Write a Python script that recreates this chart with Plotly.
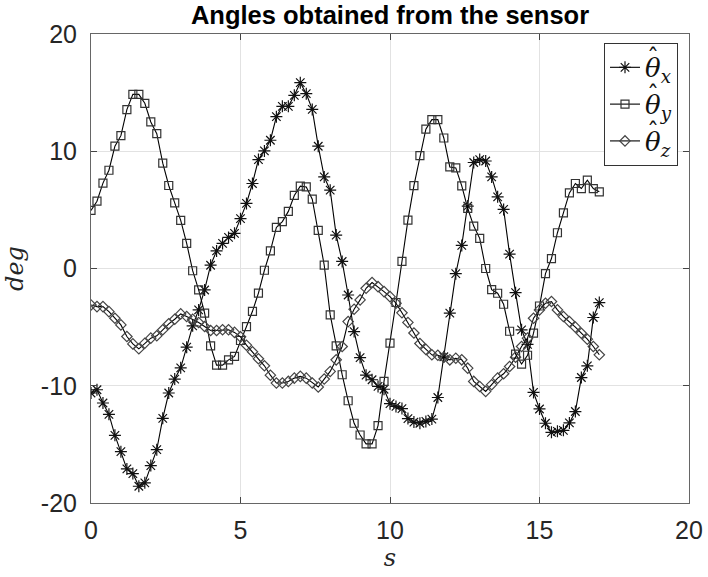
import plotly.graph_objects as go

time_s = [0.0, 0.2, 0.4, 0.6, 0.8, 1.0, 1.2, 1.4, 1.6, 1.8,
          2.0, 2.2, 2.4, 2.6, 2.8, 3.0, 3.2, 3.4, 3.6, 3.8,
          4.0, 4.2, 4.4, 4.6, 4.8, 5.0, 5.2, 5.4, 5.6, 5.8,
          6.0, 6.2, 6.4, 6.6, 6.8, 7.0, 7.2, 7.4, 7.6, 7.8,
          8.0, 8.2, 8.4, 8.6, 8.8, 9.0, 9.2, 9.4, 9.6, 9.8,
          10.0, 10.2, 10.4, 10.6, 10.8, 11.0, 11.2, 11.4, 11.6, 11.8,
          12.0, 12.2, 12.4, 12.6, 12.8, 13.0, 13.2, 13.4, 13.6, 13.8,
          14.0, 14.2, 14.4, 14.6, 14.8, 15.0, 15.2, 15.4, 15.6, 15.8,
          16.0, 16.2, 16.4, 16.6, 16.8, 17.0]

theta_x = [-10.62, -10.34, -11.47, -12.44, -14.23, -15.62, -17.09, -17.49, -18.57, -18.28,
           -16.81, -15.45, -12.78, -10.62, -9.43, -8.47, -6.71, -4.89, -3.53, -1.83,
           0.28, 1.5, 2.14, 2.65, 3.0, 4.25, 5.55, 7.25, 9.29, 10.03,
           10.94, 12.95, 13.83, 13.83, 14.77, 15.85, 14.91, 13.57, 10.43, 7.81,
           6.68, 2.85, 0.6, -2.26, -5.38, -7.6, -9.1, -9.49, -10.06, -10.3,
           -11.53, -11.76, -11.95, -12.8, -13.1, -13.2, -13.04, -12.84, -11.0, -7.53,
           -3.8, -0.44, 1.97, 5.32, 9.04, 9.29, 9.17, 7.81, 6.11, 5.04,
           1.23, -2.06, -5.23, -6.47, -10.57, -11.98, -13.2, -13.97, -13.89, -13.8,
           -13.17, -12.2, -9.3, -8.3, -4.18, -2.91]

theta_y = [4.95, 5.74, 7.28, 8.38, 10.43, 11.33, 13.55, 14.85, 14.85, 14.09,
           12.5, 11.5, 8.98, 7.08, 5.6, 4.1, 2.14, -0.19, -1.83, -3.81,
           -6.6, -8.24, -8.24, -7.79, -7.5, -6.14, -4.95, -3.65, -2.1, -0.15,
           1.5, 3.5, 4.0, 4.87, 6.23, 7.02, 6.96, 5.91, 3.25, 0.28,
           -3.96, -6.6, -9.06, -11.28, -13.2, -14.2, -14.96, -14.96, -13.4, -9.63,
           -6.37, -2.9, 0.6, 4.13, 7.06, 9.63, 11.88, 12.7, 12.7, 11.13,
           8.66, 8.58, 7.05, 5.12, 3.62, 2.57, 0.0, -1.8, -2.11, -3.05,
           -5.35, -7.3, -8.15, -7.4, -5.52, -3.2, -0.44, 0.85, 3.05, 4.75,
           6.45, 7.25, 6.82, 7.53, 6.82, 6.54]

theta_z = [-3.11, -3.25, -3.25, -3.68, -4.24, -4.81, -5.8, -6.43, -6.85, -6.37,
           -5.94, -5.74, -5.23, -4.72, -4.33, -3.87, -4.1, -4.33, -4.61, -4.95,
           -5.29, -5.29, -5.23, -5.23, -5.45, -5.83, -6.54, -7.1, -7.7, -8.3,
           -9.1, -9.77, -9.77, -9.63, -9.35, -9.2, -9.35, -9.77, -10.11, -9.43,
           -8.78, -7.79, -6.65, -4.53, -3.47, -2.68, -1.69, -1.2, -1.55, -1.97,
           -2.4, -2.96, -3.78, -4.6, -5.5, -6.4, -6.9, -7.36, -7.4, -7.56,
           -7.79, -7.65, -7.79, -8.5, -9.63, -10.06, -10.48, -9.91, -9.35, -8.98,
           -8.36, -7.56, -6.65, -5.94, -4.24, -3.53, -2.96, -2.82, -3.53, -4.1,
           -4.53, -5.0, -5.52, -6.03, -6.65, -7.36]

x_ticks = [0, 5, 10, 15, 20]
y_ticks = [-20, -10, 0, 10, 20]
title_text = "Angles obtained from the sensor"
x_label = "s"
y_label = "deg"
legend_names = ["θ<sub>x</sub>", "θ<sub>y</sub>", "θ<sub>z</sub>"]
hat_char = "ˆ"
hat_y = [0.9488, 0.870, 0.791]

series = [(theta_x, "asterisk-open", 10, "#111111"),
          (theta_y, "square-open", 8, "#333333"),
          (theta_z, "diamond-open", 8, "#444444")]

fig = go.Figure()
for (vals, sym, sz, mc), name in zip(series, legend_names):
    fig.add_trace(go.Scatter(
        x=time_s, y=vals, mode="lines+markers", name=name,
        line=dict(color="#000000", width=1.1),
        marker=dict(symbol=sym, size=sz, color=mc, line=dict(color=mc, width=1.2)),
    ))

# circumflex hats over the legend thetas
for hy in hat_y:
    fig.add_annotation(text=hat_char, xref="paper", yref="paper", x=0.940, y=hy,
                       xanchor="center", yanchor="middle", showarrow=False,
                       font=dict(family="DejaVu Serif, serif", size=24, color="#111111"))

axis_common = dict(
    showgrid=True, gridcolor="#e2e2e2", gridwidth=1,
    showline=True, linecolor="#666666", linewidth=1, mirror="ticks",
    ticks="inside", ticklen=6, tickcolor="#444444", tickwidth=1,
    zeroline=False, automargin=False,
    tickfont=dict(family="Liberation Sans, Arial, sans-serif", size=25, color="#262626"),
)

fig.update_xaxes(range=[0, 20], tickvals=x_ticks, ticktext=[str(v) for v in x_ticks],
                 ticklabelstandoff=5,
                 title=dict(text="<i>" + x_label + "</i>", standoff=6,
                            font=dict(family="DejaVu Serif, serif", size=24, color="#262626")),
                 **axis_common)
fig.update_yaxes(range=[-20, 20], tickvals=y_ticks, ticktext=[str(v) for v in y_ticks],
                 ticklabelstandoff=8,
                 title=dict(text="<i>" + y_label + "</i>", standoff=10,
                            font=dict(family="DejaVu Serif, serif", size=24, color="#262626")),
                 **axis_common)

fig.update_layout(
    width=708, height=577,
    margin=dict(l=91, r=19, t=34, b=74, autoexpand=False),
    paper_bgcolor="white", plot_bgcolor="white",
    title=dict(text="<b>" + title_text + "</b>", x=(91 + 689) / 2 / 708, xanchor="center",
               y=1 - 15 / 577, yanchor="middle", yref="container",
               font=dict(family="Liberation Sans, Arial, sans-serif", size=25.5, color="#000000")),
    legend=dict(x=0.9816, xanchor="right", y=0.981, yanchor="top",
                bgcolor="white", bordercolor="#333333", borderwidth=1,
                font=dict(family="DejaVu Serif, serif", size=26, color="#111111", style="italic"),
                tracegroupgap=0),
    showlegend=True,
)

fig.write_html("out.html",
               config={"displayModeBar": False},
               post_script="document.body.style.margin='0px';"
                           "document.documentElement.style.overflow='hidden';")
